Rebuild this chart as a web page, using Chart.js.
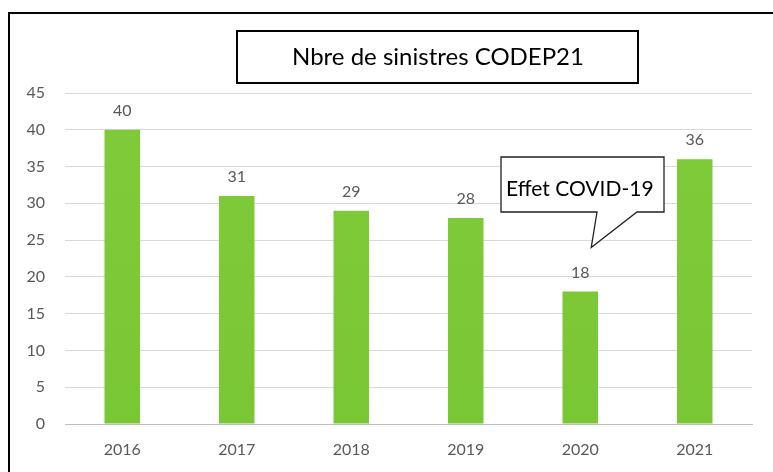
<!DOCTYPE html>
<html>
<head>
<meta charset="utf-8">
<script src="https://cdn.jsdelivr.net/npm/chart.js@4/dist/chart.umd.min.js"></script>
<style>
html,body{margin:0;padding:0;background:#fff;}
#wrap{position:relative;width:773px;height:472px;}
</style>
</head>
<body>
<div id="wrap"><canvas id="ch"></canvas></div>
<script>
// ===== données =====
const annees=['2016','2017','2018','2019','2020','2021'];
const sinistres=[40,31,29,28,18,36];
const titre='Nbre de sinistres CODEP21';
const bulle='Effet COVID-19';

const FONT='Lato, "Open Sans", sans-serif';

// cadre, titre, étiquettes et bulle
const deco={
  id:'deco',
  afterDraw(c){
    const ctx=c.ctx, xs=c.scales.x, ys=c.scales.y;
    ctx.save();
    // cadre extérieur
    ctx.strokeStyle='#000'; ctx.lineWidth=2;
    ctx.beginPath(); ctx.moveTo(9,480); ctx.lineTo(9,13); ctx.lineTo(780,13); ctx.stroke();
    // boîte titre
    ctx.fillStyle='#fff'; ctx.fillRect(237,31,401,52);
    ctx.strokeRect(237,31,401,52);
    ctx.fillStyle='#000'; ctx.font='24px '+FONT; ctx.textAlign='center'; ctx.textBaseline='middle';
    ctx.fillText(titre,438,57);
    // valeurs
    ctx.fillStyle='#595959'; ctx.font='16px '+FONT; ctx.textBaseline='alphabetic';
    c.getDatasetMeta(0).data.forEach((b,i)=>{ ctx.fillText(String(sinistres[i]),b.x,b.y-14); });
    // bulle COVID
    const tipX=xs.getPixelForValue(4)+11, tipY=ys.getPixelForValue(24);
    ctx.lineWidth=1.3; ctx.strokeStyle='#222'; ctx.fillStyle='#fff';
    ctx.beginPath();
    ctx.moveTo(501,157); ctx.lineTo(664,157); ctx.lineTo(664,212); ctx.lineTo(637,212);
    ctx.lineTo(tipX,tipY); ctx.lineTo(597,212); ctx.lineTo(501,212); ctx.closePath();
    ctx.fill(); ctx.stroke();
    ctx.fillStyle='#000'; ctx.font='21px '+FONT; ctx.textAlign='left'; ctx.textBaseline='middle';
    ctx.fillText(bulle,506,189);
    ctx.restore();
  }
};

const el=document.getElementById('ch');
const ctx0=el.getContext('2d');
const grad=ctx0.createLinearGradient(0,0,0,472);
grad.addColorStop(0,'#82cc3c');
grad.addColorStop(1,'#79c634');

new Chart(el,{type:'bar',
  data:{labels:annees,datasets:[{data:sinistres,backgroundColor:grad,borderWidth:0,barPercentage:0.31,categoryPercentage:1}]},
  options:{responsive:true,maintainAspectRatio:false,animation:false,
    layout:{padding:{top:93,right:21,bottom:0,left:0}},
    plugins:{legend:{display:false},tooltip:{enabled:false}},
    scales:{
      x:{grid:{display:false,drawTicks:false},border:{display:true,color:'#bfbfbf'},
        ticks:{color:'#595959',font:{family:FONT,size:16},padding:16},
        afterFit(s){s.height=48;}},
      y:{min:0,max:45,border:{display:false},
        grid:{color:'#d9d9d9',drawTicks:false},
        ticks:{stepSize:5,color:'#595959',font:{family:FONT,size:16},padding:20},
        afterFit(s){s.width=65;}}
    }},
  plugins:[deco]
});
</script>
</body>
</html>
